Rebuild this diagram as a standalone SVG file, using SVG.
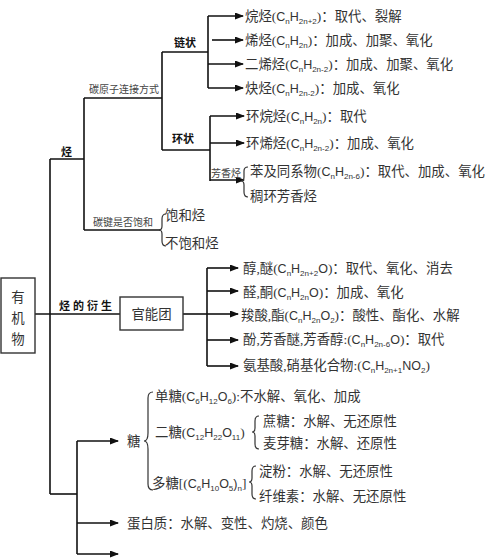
<svg xmlns="http://www.w3.org/2000/svg" width="500" height="559" viewBox="0 0 500 559">
<defs>
<marker id="ah" markerWidth="9" markerHeight="7" refX="8" refY="3.5" orient="auto" markerUnits="userSpaceOnUse">
<path d="M0,0 L9,3.5 L0,7 z" fill="#111"/>
</marker>
<style>
.ln{stroke:#111;stroke-width:1.6;fill:none}
.ar{stroke:#111;stroke-width:1.6;fill:none;marker-end:url(#ah)}
.br{stroke:#333;stroke-width:1.2;fill:none}
.t{font-family:"Liberation Serif","Noto Sans CJK SC",serif;font-size:13.4px;fill:#333}
.f{font-family:"Liberation Sans","Noto Sans CJK SC",sans-serif;font-size:12.5px}
.s{font-size:8px}
.sm{font-family:"Liberation Serif","Noto Sans CJK SC",serif;font-size:10px;fill:#444}
.b{font-family:"Noto Sans CJK SC",sans-serif;font-size:11px;font-weight:bold;fill:#111}
.box{fill:#fff;stroke:#333;stroke-width:1.4}
</style>
</defs>
<rect width="500" height="559" fill="#fff"/>
<g id="connectors">
<polyline class="ln" points="35,314 120,314"/>
<line class="ln" x1="50" y1="159" x2="50" y2="494"/>
<polyline class="ln" points="50,159 84,159"/>
<line class="ln" x1="84" y1="98" x2="84" y2="230"/>
<polyline class="ln" points="84,98 162,98"/>
<polyline class="ln" points="84,230 160,230"/>
<line class="ln" x1="162" y1="52" x2="162" y2="150"/>
<polyline class="ln" points="162,52 208,52"/>
<polyline class="ln" points="162,150 210,150"/>
<line class="ln" x1="208" y1="16" x2="208" y2="88"/>
<line class="ar" x1="208" y1="16" x2="243" y2="16"/>
<line class="ar" x1="212" y1="40" x2="243" y2="40"/>
<line class="ar" x1="208" y1="64" x2="243" y2="64"/>
<line class="ar" x1="208" y1="88" x2="243" y2="88"/>
<line class="ln" x1="210" y1="116" x2="210" y2="181"/>
<line class="ar" x1="210" y1="116" x2="244" y2="116"/>
<line class="ar" x1="210" y1="143" x2="244" y2="143"/>
<line class="ar" x1="210" y1="180" x2="244" y2="180"/>
<polyline class="ln" points="183,314 207,314"/>
<line class="ln" x1="207" y1="268" x2="207" y2="366"/>
<line class="ar" x1="207" y1="268" x2="238" y2="268"/>
<line class="ar" x1="207" y1="291" x2="238" y2="291"/>
<line class="ar" x1="207" y1="314" x2="238" y2="314"/>
<line class="ar" x1="207" y1="340" x2="238" y2="340"/>
<line class="ar" x1="207" y1="366" x2="238" y2="366"/>
<polyline class="ln" points="50,494 77,494"/>
<line class="ln" x1="77" y1="441" x2="77" y2="554"/>
<line class="ar" x1="77" y1="441" x2="118" y2="441"/>
<line class="ar" x1="77" y1="523" x2="118" y2="523"/>
<line class="ar" x1="77" y1="554" x2="118" y2="554"/>
<path class="br" d="M166,214 Q162,214 162,219 L162,226 Q162,230 159,230 Q162,230 162,234 L162,241 Q162,246 166,246"/>
<path class="br" d="M248,167 Q244,167 244,171 L244,177 Q244,181 241,181 Q244,181 244,185 L244,192 Q244,197 248,197"/>
<path class="br" d="M153,392 Q148,392 148,398 L148,433 Q148,441 144,441 Q148,441 148,449 L148,484 Q148,490 153,490"/>
<path class="br" d="M259,416 Q255,416 255,421 L255,428 Q255,432 252,432 Q255,432 255,436 L255,444 Q255,449 259,449"/>
<path class="br" d="M256,466 Q252,466 252,471 L252,478 Q252,482 249,482 Q252,482 252,486 L252,494 Q252,499 256,499"/>
</g>
<g id="root">
<rect class="box" x="1" y="278" width="34" height="75"/>
<text class="t" x="18" y="302" text-anchor="middle" font-size="13">有</text>
<text class="t" x="18" y="323" text-anchor="middle" font-size="13">机</text>
<text class="t" x="18" y="344" text-anchor="middle" font-size="13">物</text>
</g>
<g id="labels">
<text class="b" x="61" y="156" font-size="12">烃</text>
<text class="sm" x="89" y="93">碳原子连接方式</text>
<text class="b" x="174" y="47">链状</text>
<text class="b" x="172" y="143">环状</text>
<text class="sm" x="211" y="177">芳香烃</text>
<text class="sm" x="93" y="226">碳键是否饱和</text>
<text class="b" x="59" y="310" letter-spacing="3">烃的衍生</text>
</g>
<g id="alkanes">
<text class="t" x="245" y="21">烷烃(<tspan class="f">C<tspan class="s" dy="3">n</tspan><tspan dy="-3">H</tspan><tspan class="s" dy="3">2n+2</tspan></tspan><tspan dy="-3">)：取代、裂解</tspan></text>
<text class="t" x="245" y="45">烯烃(<tspan class="f">C<tspan class="s" dy="3">n</tspan><tspan dy="-3">H</tspan><tspan class="s" dy="3">2n</tspan></tspan><tspan dy="-3">)：加成、加聚、氧化</tspan></text>
<text class="t" x="245" y="69">二烯烃(<tspan class="f">C<tspan class="s" dy="3">n</tspan><tspan dy="-3">H</tspan><tspan class="s" dy="3">2n-2</tspan></tspan><tspan dy="-3">)：加成、加聚、氧化</tspan></text>
<text class="t" x="245" y="93">炔烃(<tspan class="f">C<tspan class="s" dy="3">n</tspan><tspan dy="-3">H</tspan><tspan class="s" dy="3">2n-2</tspan></tspan><tspan dy="-3">)：加成、氧化</tspan></text>
</g>
<g id="cyclic">
<text class="t" x="246" y="121">环烷烃(<tspan class="f">C<tspan class="s" dy="3">n</tspan><tspan dy="-3">H</tspan><tspan class="s" dy="3">2n</tspan></tspan><tspan dy="-3">)：取代</tspan></text>
<text class="t" x="246" y="148">环烯烃(<tspan class="f">C<tspan class="s" dy="3">n</tspan><tspan dy="-3">H</tspan><tspan class="s" dy="3">2n-2</tspan></tspan><tspan dy="-3">)：加成、氧化</tspan></text>
<text class="t" x="250" y="176">苯及同系物(<tspan class="f">C<tspan class="s" dy="3">n</tspan><tspan dy="-3">H</tspan><tspan class="s" dy="3">2n-6</tspan></tspan><tspan dy="-3">)：取代、加成、氧化</tspan></text>
<text class="t" x="250" y="201">稠环芳香烃</text>
</g>
<g id="saturation">
<text class="t" x="165" y="220" font-size="15">饱和烃</text>
<text class="t" x="165" y="248" font-size="15">不饱和烃</text>
</g>
<g id="functional">
<rect class="box" x="120" y="297" width="63" height="33"/>
<text class="t" x="151.5" y="319" text-anchor="middle" font-size="16">官能团</text>
<text class="t" x="243" y="273">醇,醚(<tspan class="f">C<tspan class="s" dy="3">n</tspan><tspan dy="-3">H</tspan><tspan class="s" dy="3">2n+2</tspan><tspan dy="-3">O</tspan></tspan>)：取代、氧化、消去</text>
<text class="t" x="243" y="297">醛,酮(<tspan class="f">C<tspan class="s" dy="3">n</tspan><tspan dy="-3">H</tspan><tspan class="s" dy="3">2n</tspan><tspan dy="-3">O</tspan></tspan>)：加成、氧化</text>
<text class="t" x="241" y="320">羧酸,酯(<tspan class="f">C<tspan class="s" dy="3">n</tspan><tspan dy="-3">H</tspan><tspan class="s" dy="3">2n</tspan><tspan dy="-3">O</tspan><tspan class="s" dy="3">2</tspan></tspan><tspan dy="-3">)：酸性、酯化、水解</tspan></text>
<text class="t" x="243" y="344">酚,芳香醚,芳香醇:(<tspan class="f">C<tspan class="s" dy="3">n</tspan><tspan dy="-3">H</tspan><tspan class="s" dy="3">2n-6</tspan><tspan dy="-3">O</tspan></tspan>)：取代</text>
<text class="t" x="243" y="370">氨基酸,硝基化合物:(<tspan class="f">C<tspan class="s" dy="3">n</tspan><tspan dy="-3">H</tspan><tspan class="s" dy="3">2n+1</tspan><tspan dy="-3">NO</tspan><tspan class="s" dy="3">2</tspan></tspan><tspan dy="-3">)</tspan></text>
</g>
<g id="sugar">
<text class="t" x="127" y="446">糖</text>
<text class="t" x="155" y="401">单糖(<tspan class="f">C<tspan class="s" dy="3">6</tspan><tspan dy="-3">H</tspan><tspan class="s" dy="3">12</tspan><tspan dy="-3">O</tspan><tspan class="s" dy="3">6</tspan></tspan><tspan dy="-3">):不水解、氧化、加成</tspan></text>
<text class="t" x="155" y="437">二糖(<tspan class="f">C<tspan class="s" dy="3">12</tspan><tspan dy="-3">H</tspan><tspan class="s" dy="3">22</tspan><tspan dy="-3">O</tspan><tspan class="s" dy="3">11</tspan></tspan><tspan dy="-3">)</tspan></text>
<text class="t" x="152" y="488">多糖[(<tspan class="f">C<tspan class="s" dy="3">6</tspan><tspan dy="-3">H</tspan><tspan class="s" dy="3">10</tspan><tspan dy="-3">O</tspan><tspan class="s" dy="3">5</tspan><tspan dy="-3">)</tspan><tspan class="s" dy="3">n</tspan></tspan><tspan dy="-3">]</tspan></text>
<text class="t" x="263" y="426">蔗糖：水解、无还原性</text>
<text class="t" x="263" y="448">麦芽糖：水解、还原性</text>
<text class="t" x="259" y="476">淀粉：水解、无还原性</text>
<text class="t" x="259" y="501">纤维素：水解、无还原性</text>
</g>
<g id="protein">
<text class="t" x="127" y="528">蛋白质：水解、变性、灼烧、颜色</text>
</g>
</svg>
